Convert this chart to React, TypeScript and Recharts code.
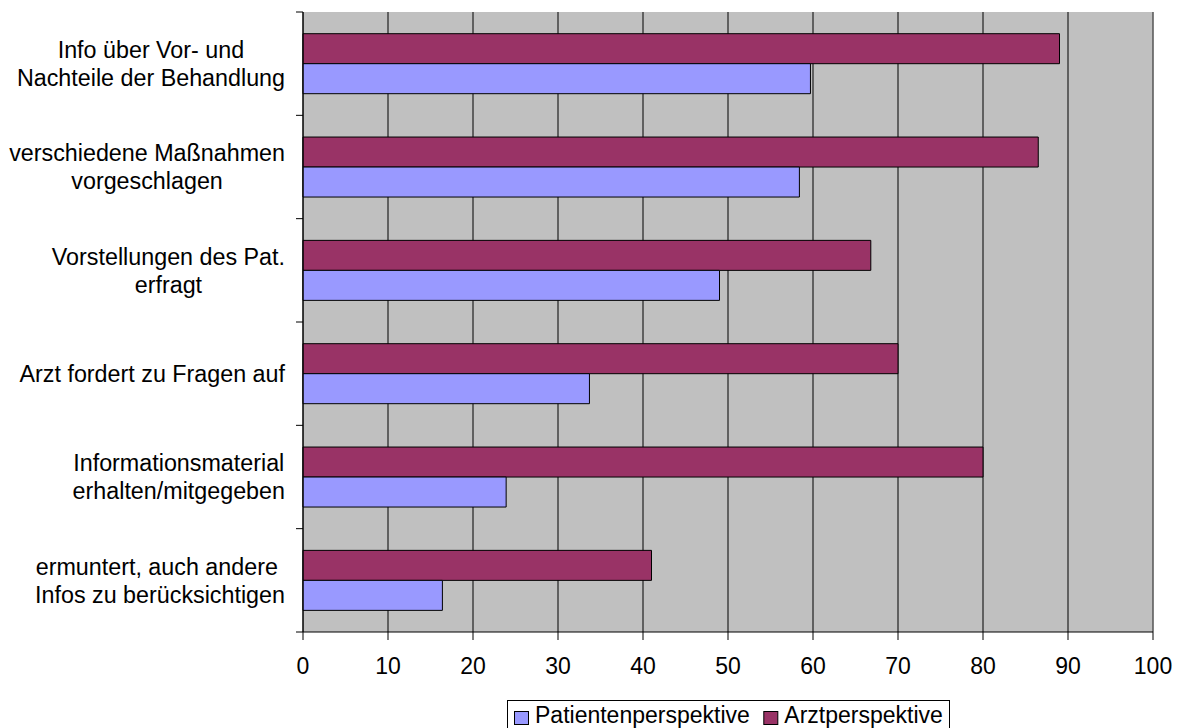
import React from "react";
import {
  BarChart,
  Bar,
  XAxis,
  YAxis,
  CartesianGrid,
  ReferenceLine,
} from "recharts";

// Survey items, each split into the lines shown on the axis
const CATEGORY_LINES: string[][] = [
  ["Info über Vor- und", "Nachteile der Behandlung"],
  ["verschiedene Maßnahmen", "vorgeschlagen"],
  ["Vorstellungen des Pat.", "erfragt"],
  ["Arzt fordert zu Fragen auf"],
  ["Informationsmaterial", "erhalten/mitgegeben"],
  ["ermuntert, auch andere ", "Infos zu berücksichtigen"],
];

const SERIES_NAMES = ["Patientenperspektive", "Arztperspektive"];
const PATIENT_VALUES = [59.7, 58.4, 49.0, 33.7, 23.9, 16.4];
const ARZT_VALUES = [89.0, 86.5, 66.8, 70.0, 80.0, 41.0];
const X_TICKS = [0, 10, 20, 30, 40, 50, 60, 70, 80, 90, 100];

const COLORS = {
  patient: "#9999FF",
  arzt: "#993366",
  plot: "#C0C0C0",
};

const FONT_FAMILY = "'Liberation Sans', Arial, sans-serif";
const FONT_SIZE = 23;
const LABEL_FONT_SIZE = 23.3;

const WIDTH = 1179;
const HEIGHT = 728;
const Y_AXIS_WIDTH = 303;
const X_AXIS_HEIGHT = 96;
const MARGIN = { top: 12, right: 26, bottom: 0, left: 0 };
const PLOT_LEFT = MARGIN.left + Y_AXIS_WIDTH;
const PLOT_HEIGHT = HEIGHT - MARGIN.top - MARGIN.bottom - X_AXIS_HEIGHT;
const BAND = PLOT_HEIGHT / CATEGORY_LINES.length;

const data = CATEGORY_LINES.map((lines, i) => ({
  category: lines.join(" "),
  lines,
  patient: PATIENT_VALUES[i],
  arzt: ARZT_VALUES[i],
}));

let measureCtx: CanvasRenderingContext2D | null = null;
function textWidth(text: string, size: number = FONT_SIZE): number {
  if (!measureCtx) {
    const canvas = document.createElement("canvas");
    measureCtx = canvas.getContext("2d");
  }
  if (!measureCtx) return text.length * size * 0.5;
  measureCtx.font = `${size}px ${FONT_FAMILY}`;
  return measureCtx.measureText(text).width;
}

// Category label: block right-aligned next to the axis, lines centred within it,
// with tick marks drawn on the band boundaries
const CategoryTick = (props: any) => {
  const { y, index } = props;
  const lines: string[] = data[index]?.lines ?? [String(props.payload?.value)];
  const right = PLOT_LEFT - 18;
  const blockW = Math.max(...lines.map((l) => textWidth(l, LABEL_FONT_SIZE)));
  const cx = right - blockW / 2;
  const lineGap = 28;
  const firstBaseline = y + 8.25 - ((lines.length - 1) * lineGap) / 2;
  const half = BAND / 2;
  return (
    <g>
      <line x1={PLOT_LEFT - 7} x2={PLOT_LEFT} y1={y - half} y2={y - half} stroke="#000" />
      {index === CATEGORY_LINES.length - 1 && (
        <line x1={PLOT_LEFT - 7} x2={PLOT_LEFT} y1={y + half} y2={y + half} stroke="#000" />
      )}
      {lines.map((line, i) => (
        <text
          key={i}
          x={cx}
          y={firstBaseline + i * lineGap}
          textAnchor="middle"
          fontFamily={FONT_FAMILY}
          fontSize={LABEL_FONT_SIZE}
          fill="#000"
          style={{ whiteSpace: "pre" }}
        >
          {line}
        </text>
      ))}
    </g>
  );
};

const ValueTick = (props: any) => {
  const { x, y, payload } = props;
  return (
    <text
      x={x}
      y={y + 34}
      textAnchor="middle"
      fontFamily={FONT_FAMILY}
      fontSize={FONT_SIZE}
      fill="#000"
    >
      {payload.value}
    </text>
  );
};

const LegendBox = () => {
  const seriesColors = [COLORS.patient, COLORS.arzt];
  let cursor = 7.5;
  const items = SERIES_NAMES.map((name, i) => {
    const sx = cursor;
    const tx = sx + 20.5;
    cursor = tx + textWidth(name) + 14;
    return (
      <g key={name}>
        <rect x={sx} y={11.5} width={14} height={13} fill={seriesColors[i]} stroke="#000" />
        <text x={tx} y={23} fontFamily={FONT_FAMILY} fontSize={FONT_SIZE} fill="#000">
          {name}
        </text>
      </g>
    );
  });
  return (
    <svg
      width={443}
      height={40}
      style={{ position: "absolute", left: 507, top: 700, overflow: "hidden" }}
    >
      <rect x={0.5} y={0.5} width={442} height={50} fill="#fff" stroke="#000" />
      {items}
    </svg>
  );
};

export default function App() {
  return (
    <div
      style={{
        position: "absolute",
        left: 0,
        top: 0,
        width: WIDTH,
        height: HEIGHT,
        overflow: "hidden",
        background: "#fff",
      }}
    >
      <BarChart
        width={WIDTH}
        height={HEIGHT}
        data={data}
        layout="vertical"
        margin={MARGIN}
        barCategoryGap="21%"
        barGap={0}
      >
        <CartesianGrid
          horizontal={false}
          vertical={true}
          stroke="#000"
          strokeOpacity={1}
          fill={COLORS.plot}
          fillOpacity={1}
        />
        <XAxis
          type="number"
          domain={[0, 100]}
          ticks={X_TICKS}
          interval={0}
          height={X_AXIS_HEIGHT}
          tickSize={8}
          tickMargin={0}
          axisLine={{ stroke: "#000" }}
          tickLine={{ stroke: "#000" }}
          tick={<ValueTick />}
        />
        <YAxis
          type="category"
          dataKey="category"
          width={Y_AXIS_WIDTH}
          interval={0}
          axisLine={{ stroke: "#000" }}
          tickLine={false}
          tick={<CategoryTick />}
        />
        <ReferenceLine x={100} stroke="#808080" />
        <Bar
          dataKey="arzt"
          name={SERIES_NAMES[1]}
          fill={COLORS.arzt}
          stroke="#000"
          strokeWidth={1}
          isAnimationActive={false}
        />
        <Bar
          dataKey="patient"
          name={SERIES_NAMES[0]}
          fill={COLORS.patient}
          stroke="#000"
          strokeWidth={1}
          isAnimationActive={false}
        />
      </BarChart>
      <LegendBox />
    </div>
  );
}
